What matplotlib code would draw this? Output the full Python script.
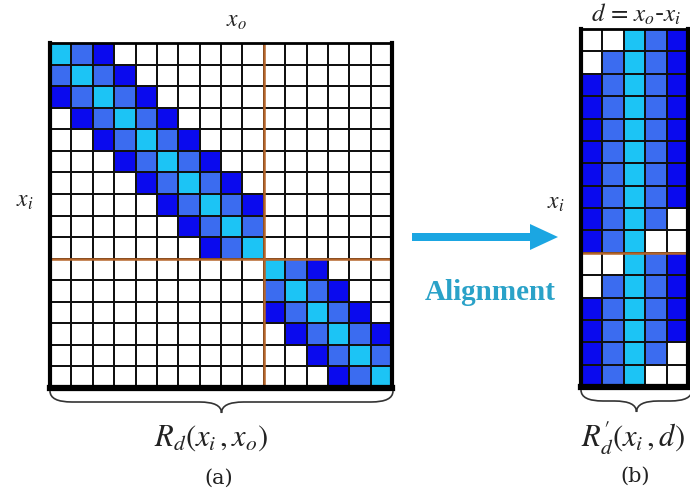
import matplotlib
matplotlib.use("Agg")
import matplotlib.pyplot as plt
import numpy as np
from matplotlib.colors import ListedColormap
from matplotlib.path import Path
from matplotlib.patches import PathPatch, FancyArrow

# cell levels: 0 = empty, 1 = dark blue, 2 = mid blue, 3 = cyan (diagonal)
raw_rows = [
    "3210000000000000",
    "2321000000000000",
    "1232100000000000",
    "0123210000000000",
    "0012321000000000",
    "0001232100000000",
    "0000123210000000",
    "0000012321000000",
    "0000001232000000",
    "0000000123000000",
    "0000000000321000",
    "0000000000232100",
    "0000000000123210",
    "0000000000012321",
    "0000000000001232",
    "0000000000000123",
]
# same data after alignment, columns d = -2..2
aligned_rows = [
    "00321", "02321", "12321", "12321", "12321", "12321", "12321", "12321",
    "12320", "12300", "00321", "02321", "12321", "12321", "12320", "12300",
]
split_at = 10

raw = np.array([[int(c) for c in r] for r in raw_rows])
aligned = np.array([[int(c) for c in r] for r in aligned_rows])

cmap = ListedColormap(["white", "#0a0aee", "#3b6cf0", "#1cc4f5"])
orange = "#b5652a"
plt.rcParams["mathtext.fontset"] = "stix"

fig = plt.figure(figsize=(6.9, 4.98), dpi=100)
W, H = 690, 498


def grid_axes(x0, y0, x1, y1, mat):
    ax = fig.add_axes([x0 / W, 1 - y1 / H, (x1 - x0) / W, (y1 - y0) / H])
    ax.pcolormesh(mat, cmap=cmap, vmin=-0.5, vmax=3.5,
                  edgecolors="#111111", linewidth=1.3)
    ax.set_xlim(0, mat.shape[1])
    ax.set_ylim(mat.shape[0], 0)
    ax.set_xticks([])
    ax.set_yticks([])
    for side, lw in [("left", 3), ("bottom", 4.5), ("top", 2), ("right", 3)]:
        ax.spines[side].set_linewidth(lw)
        ax.spines[side].set_color("black")
    ax.axhline(split_at, color=orange, lw=1.8)
    return ax


ax_a = grid_axes(50, 43, 392, 388, raw)
ax_a.axvline(split_at, color=orange, lw=1.8)
ax_b = grid_axes(581, 29, 688, 387, aligned)

# overlay for annotations in pixel units
ov = fig.add_axes([0, 0, 1, 1], zorder=5)
ov.set_xlim(0, W)
ov.set_ylim(H, 0)
ov.axis("off")
ov.patch.set_alpha(0)


def brace(x0, x1, y, h, q=22):
    xm = (x0 + x1) / 2
    verts = [(x0, y), (x0, y + h / 2), (x0 + q, y + h / 2),
             (xm - q, y + h / 2), (xm, y + h / 2), (xm, y + h),
             (xm, y + h / 2), (xm + q, y + h / 2),
             (x1 - q, y + h / 2), (x1, y + h / 2), (x1, y)]
    codes = [Path.MOVETO, Path.CURVE3, Path.CURVE3,
             Path.LINETO, Path.CURVE3, Path.CURVE3,
             Path.CURVE3, Path.CURVE3,
             Path.LINETO, Path.CURVE3, Path.CURVE3]
    ov.add_patch(PathPatch(Path(verts, codes), fill=False, ec="#333333", lw=1.2))


brace(50, 393, 391, 22)
brace(581, 692, 390, 22)

tk = dict(ha="center", va="center", color="#222222")
ov.text(236, 20, r"$x_o$", fontsize=17, **tk)
ov.text(25, 200, r"$x_i$", fontsize=17, **tk)
ov.text(556, 202, r"$x_i$", fontsize=17, **tk)
ov.text(636, 22, r"$d\,=\,x_o$-$x_i$", fontsize=18, ha="center", va="baseline",
        color="#222222")
ov.text(211, 438, r"$R_d(x_i\,,x_o)$", fontsize=22, **tk)
ov.text(633, 438, r"$R_d^{\prime}(x_i\,,d)$", fontsize=22, **tk)
ov.text(219, 478, "(a)", fontsize=15, family="DejaVu Serif", **tk)
ov.text(635, 476, "(b)", fontsize=15, family="DejaVu Serif", **tk)

ov.add_patch(FancyArrow(412, 237, 146, 0, width=8, head_width=26,
                        head_length=28, length_includes_head=True,
                        color="#1ba6e2", lw=0))
ov.text(490, 292, "Alignment", fontsize=21, fontweight="bold",
        family="Liberation Serif", color="#2aa2c8", ha="center", va="center")

fig.savefig("out.png", dpi=100)
